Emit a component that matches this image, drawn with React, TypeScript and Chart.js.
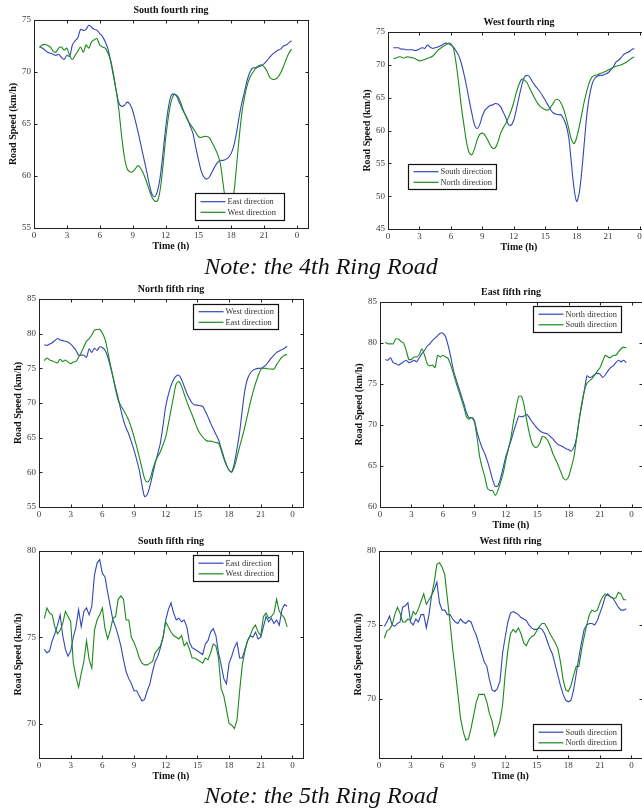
import React, { useEffect, useRef } from "react";
import { Chart, registerables } from "chart.js";

Chart.register(...registerables);

// Time grid (hours of the day), every 15 minutes
const hours: number[] = Array.from({ length: 93 }, (_, i) => 0.5 + i * 0.25);
const xTicks = [0, 3, 6, 9, 12, 15, 18, 21, 24];

// South fourth ring
const south4East = [
  72.4, 72.3,
  72.1, 71.9, 71.8, 71.7, 71.6, 71.7, 71.4, 71.2, 71.6, 71.5, 72.6, 73.0,
  73.3, 74.1, 74.0, 74.1, 74.5, 74.3, 74.1, 74.0, 73.7, 73.4, 72.9, 72.2,
  71.0, 69.6, 68.2, 67.0, 66.7, 66.8, 67.1, 66.9, 66.3, 65.3, 64.2, 63.0,
  61.8, 60.6, 59.3, 58.3, 58.0, 58.5, 59.8, 62.0, 64.5, 66.5, 67.7, 67.9,
  67.7, 67.1, 66.5, 66.0, 65.5, 64.8, 64.1, 62.8, 61.6, 60.5, 59.9, 59.7,
  59.9, 60.4, 60.9, 61.3, 61.5, 61.5, 61.6, 61.8, 62.2, 63.0, 64.3, 65.9,
  67.2, 68.3, 69.4, 70.1, 70.4, 70.4, 70.5, 70.6, 70.8, 71.1, 71.4, 71.7,
  71.9, 72.1, 72.2, 72.5, 72.6, 72.8, 73.0,
];
const south4West = [
  72.4, 72.6,
  72.65, 72.55, 72.4, 72.0, 71.9, 72.3, 72.4, 72.1, 72.3, 71.6, 71.2, 71.6,
  72.0, 72.4, 71.9, 72.6, 72.3, 72.9, 73.1, 73.2, 72.6, 72.4, 72.3, 71.8,
  71.1, 69.8, 68.2, 66.3, 63.8, 61.8, 60.7, 60.4, 60.4, 60.7, 61.0, 60.7,
  60.2, 59.5, 58.7, 58.0, 57.6, 57.6, 58.6, 60.8, 63.5, 65.6, 67.1, 67.8,
  67.8, 67.4, 66.7, 66.0, 65.4, 65.0, 64.6, 64.2, 63.8, 63.7, 63.8, 63.8,
  63.7, 63.2, 62.7, 62.1, 61.2, 59.3, 57.5, 56.8, 57.2, 58.5, 61.2, 64.0,
  66.3, 67.8, 68.9, 69.6, 70.0, 70.4, 70.6, 70.7, 70.5, 70.1, 69.5, 69.3,
  69.3, 69.5, 69.9, 70.5, 71.2, 71.8, 72.2,
];

// West fourth ring
const west4South = [
  72.6, 72.6,
  72.6, 72.4, 72.4, 72.3, 72.3, 72.3, 72.2, 72.2, 72.4, 72.6, 72.5, 73.0,
  72.7, 72.5, 72.6, 72.7, 72.9, 73.1, 73.3, 73.2, 73.0, 72.7, 72.1, 71.4,
  70.2, 68.6, 66.7, 64.6, 62.6, 60.9, 60.3, 60.9, 62.2, 63.1, 63.5, 63.8,
  63.9, 64.1, 64.0, 63.6, 62.8, 61.9, 60.9, 60.8, 61.6, 63.2, 65.1, 66.8,
  68.1, 68.4, 68.2, 67.5, 66.9, 66.4, 65.9, 65.3, 64.6, 63.9, 63.2, 62.7,
  62.5, 62.4, 62.4, 61.8, 60.8, 58.9, 55.0, 51.2, 49.2, 50.5, 54.0, 58.5,
  62.8, 65.5, 67.2, 68.0, 68.3, 68.4, 68.4, 68.6, 68.8, 69.2, 69.7, 70.4,
  70.7, 71.1, 71.6, 71.8, 72.0, 72.3, 72.5,
];
const west4North = [
  71.0, 71.0,
  71.2, 71.2, 71.0, 71.2, 71.2, 71.1, 71.0, 70.8, 70.6, 70.7, 70.8, 71.0,
  71.1, 71.3, 71.7, 72.2, 72.5, 72.8, 73.0, 73.3, 73.2, 72.5, 70.2, 67.1,
  63.6, 60.8, 58.2, 56.6, 56.3, 57.2, 58.5, 59.4, 59.6, 59.3, 58.6, 57.8,
  57.3, 57.4, 58.3, 59.6, 60.4, 61.1, 62.0, 63.0, 64.3, 65.8, 67.0, 67.8,
  67.7, 67.3, 66.5, 65.7, 64.9, 64.2, 63.7, 63.4, 63.2, 63.1, 63.5, 64.1,
  64.7, 64.7, 64.2, 63.3, 61.9, 60.3, 58.6, 58.0, 58.9, 60.6, 62.6, 64.6,
  66.2, 67.5, 68.2, 68.4, 68.5, 68.7, 68.8, 69.0, 69.2, 69.4, 69.6, 69.8,
  69.9, 70.0, 70.2, 70.4, 70.7, 71.0, 71.2,
];

// North fifth ring
const north5West = [
  78.4, 78.3,
  78.5, 78.7, 79.0, 79.3, 79.1, 79.0, 78.9, 78.8, 78.5, 78.1, 77.6, 76.9,
  76.9, 76.9, 76.6, 77.8, 77.3, 77.9, 77.6, 78.1, 78.0, 77.6, 76.7, 75.3,
  73.8, 72.2, 70.7, 69.0, 67.5, 66.4, 65.5, 64.4, 63.2, 61.8, 60.3, 58.2,
  56.5, 56.8, 58.0, 59.6, 61.3, 62.7, 64.3, 66.8, 69.5, 71.2, 72.5, 73.4,
  73.9, 74.0, 73.4, 72.4, 71.4, 70.6, 70.0, 69.7, 69.7, 69.6, 69.5, 68.8,
  68.0, 67.1, 66.3, 65.5, 64.7, 63.5, 62.2, 61.1, 60.3, 60.1, 61.3, 63.4,
  65.8, 69.0, 71.9, 73.5, 74.3, 74.7, 74.9, 75.0, 75.0, 75.2, 75.5, 76.0,
  76.5, 76.9, 77.3, 77.5, 77.7, 77.9, 78.2,
];
const north5East = [
  76.1, 76.5,
  76.2, 76.1, 75.9, 75.8, 76.3, 76.0, 76.2, 75.9, 75.7, 75.9, 76.0, 76.6,
  77.3, 78.1, 78.9, 79.3, 79.8, 80.5, 80.6, 80.6, 80.1, 79.2, 77.5, 75.6,
  73.8, 71.9, 70.4, 69.6, 69.0, 68.3, 67.5, 66.4, 65.1, 63.7, 62.2, 60.6,
  59.1, 58.6, 59.0, 60.3, 61.5, 62.3, 63.0, 64.0, 65.1, 67.0, 69.0, 71.0,
  72.8, 73.1, 72.4, 71.3, 70.2, 69.2, 68.3, 67.3, 66.3, 65.6, 65.1, 64.7,
  64.5, 64.5, 64.4, 64.3, 64.2, 63.2, 62.0, 61.0, 60.3, 60.0, 60.8, 62.2,
  63.7, 65.1, 66.6, 68.3, 70.0, 71.5, 72.8, 73.9, 74.8, 75.0, 75.0, 74.9,
  74.9, 74.9, 75.5, 76.1, 76.6, 76.9, 77.0,
];

// East fifth ring
const east5North = [
  78.0, 77.9,
  78.2, 77.6, 77.5, 77.3, 77.5, 77.7, 77.9, 77.6, 77.7, 77.9, 77.7, 78.2,
  78.7, 79.1, 79.6, 79.9, 80.3, 80.6, 80.9, 81.2, 81.2, 80.8, 79.7, 78.3,
  76.7, 75.6, 74.6, 73.6, 72.6, 71.5, 70.9, 70.9, 70.6, 69.2, 68.1, 67.2,
  66.5, 65.6, 64.5, 63.3, 62.5, 62.6, 63.5, 64.8, 66.1, 67.1, 68.1, 69.2,
  70.2, 71.1, 71.0, 71.1, 71.3, 70.9, 70.4, 70.0, 69.6, 69.3, 69.1, 69.0,
  68.9, 68.6, 68.3, 67.9, 67.6, 67.5, 67.3, 67.1, 67.0, 66.8, 67.3, 68.4,
  70.6, 72.4, 74.2, 76.0, 75.8, 75.9, 76.2, 76.3, 76.2, 75.8, 76.1, 76.6,
  77.0, 77.2, 77.6, 77.9, 77.7, 77.9, 77.6,
];
const east5South = [
  80.1, 79.9,
  79.9, 79.9, 80.5, 80.5, 80.2, 80.0, 79.1, 78.0, 78.0, 78.3, 78.3, 78.6,
  79.3, 78.5, 77.5, 77.2, 77.3, 77.0, 78.5, 78.3, 78.5, 78.3, 78.1, 77.3,
  76.3, 75.2, 74.2, 73.2, 72.2, 71.0, 70.7, 70.9, 70.4, 68.6, 66.2, 64.8,
  63.7, 62.3, 62.0, 62.0, 61.4, 62.0, 63.0, 64.1, 65.7, 67.1, 68.5, 70.5,
  72.2, 73.5, 73.5, 72.4, 70.6, 69.0, 67.8, 67.3, 67.3, 67.8, 68.6, 68.5,
  68.1, 67.4, 66.5, 65.8, 65.1, 64.3, 63.5, 63.3, 63.7, 64.8, 66.1, 68.3,
  70.6, 72.6, 74.2, 75.1, 75.4, 75.7, 76.1, 76.6, 77.0, 77.8, 78.5, 78.3,
  78.2, 78.5, 78.5, 78.9, 79.3, 79.5, 79.4,
];

// South fifth ring
const south5East = [
  74.3, 74.1,
  74.2, 74.8, 75.2, 75.7, 76.3, 75.1, 74.3, 73.9, 74.2, 75.0, 75.6, 76.6,
  75.6, 76.5, 76.7, 76.3, 76.8, 78.6, 79.3, 79.5, 78.7, 78.5, 77.6, 76.8,
  76.0, 75.6, 75.1, 74.5, 73.7, 73.0, 72.6, 72.3, 71.9, 71.9, 71.6, 71.3,
  71.4, 71.9, 72.3, 73.0, 73.6, 73.9, 74.4, 75.0, 76.0, 76.6, 77.0, 76.4,
  76.0, 76.1, 75.9, 76.0, 75.6, 74.7, 74.4, 74.3, 74.2, 74.1, 74.0, 74.6,
  74.8, 75.3, 75.5, 75.1, 74.1, 73.4, 72.6, 72.3, 73.5, 73.9, 74.4, 74.7,
  73.8, 73.8, 74.3, 74.8, 75.1, 75.0, 75.3, 74.9, 75.0, 75.6, 76.2, 75.9,
  76.1, 75.8, 76.0, 75.7, 76.6, 76.9, 76.8,
];
const south5West = [
  76.1, 76.7,
  76.4, 76.3, 75.6, 75.2, 75.4, 75.8, 76.5, 76.2, 75.9, 73.5, 72.7, 72.1,
  72.9, 73.6, 74.8, 73.7, 73.2, 75.4, 76.0, 76.3, 76.7, 75.5, 74.9, 75.4,
  76.1, 76.2, 77.2, 77.4, 77.2, 76.0, 76.0, 75.0, 74.7, 74.3, 73.8, 73.5,
  73.4, 73.4, 73.5, 73.6, 74.1, 74.3, 74.5, 75.0, 75.9, 75.6, 75.3, 75.1,
  75.0, 74.9, 75.1, 74.5, 74.7, 74.3, 73.8, 73.8, 73.7, 73.6, 73.5, 73.8,
  73.7, 74.1, 74.6, 74.5, 73.8, 72.0, 71.6, 70.8, 70.0, 69.9, 69.7, 70.2,
  71.9, 73.4, 74.2, 74.8, 75.1, 75.5, 75.7, 75.3, 75.1, 76.2, 76.4, 76.1,
  76.2, 76.4, 77.2, 76.5, 76.3, 76.1, 75.6,
];

// West fifth ring
const west5South = [
  74.9, 75.2,
  75.6, 75.0, 74.9, 75.1, 75.2, 76.2, 76.3, 76.5, 75.2, 75.0, 75.4, 75.2,
  75.7, 75.7, 74.8, 75.7, 77.0, 77.4, 77.9, 76.5, 76.0, 76.0, 75.7, 75.7,
  75.4, 75.2, 75.1, 75.4, 75.2, 75.1, 75.3, 75.2, 74.7, 74.3, 73.7, 73.1,
  72.5, 72.2, 71.3, 70.6, 70.5, 70.7, 71.2, 73.1, 74.2, 75.2, 75.8, 75.9,
  75.8, 75.7, 75.5, 75.4, 75.3, 75.0, 74.8, 74.7, 74.7, 74.8, 74.7, 74.4,
  73.9, 73.4, 73.0, 72.3, 71.6, 70.9, 70.3, 69.9, 69.8, 69.9, 70.6, 71.7,
  72.8, 73.8, 74.7, 75.0, 75.1, 75.1, 75.0, 75.3, 75.8, 76.3, 76.9, 77.1,
  76.9, 76.8, 76.5, 76.2, 76.0, 76.0, 76.1,
];
const west5North = [
  74.1, 74.6,
  74.7, 75.0, 75.7, 76.2, 75.8, 75.2, 75.2, 75.4, 75.3, 75.9, 75.7, 76.1,
  76.6, 77.1, 76.4, 76.7, 77.0, 77.9, 79.1, 79.2, 78.9, 78.4, 76.8, 75.2,
  73.4, 71.9, 70.3, 68.7, 67.8, 67.2, 67.3, 68.0, 68.9, 69.8, 70.3, 70.3,
  70.3, 69.8, 69.0, 68.5, 67.5, 67.9, 68.5, 69.6, 71.7, 73.3, 74.4, 74.7,
  74.5, 74.8, 74.4, 73.8, 73.6, 74.0, 74.2, 74.3, 74.6, 74.9, 75.1, 75.1,
  74.8, 74.4, 74.1, 73.8, 73.4, 72.5, 71.3, 70.6, 70.5, 70.9, 71.6, 72.2,
  72.2, 73.3, 74.2, 75.0, 75.7, 76.0, 75.9, 76.0, 76.5, 76.9, 77.1, 77.0,
  76.9, 76.8, 76.8, 77.2, 77.1, 76.7, 76.7,
];

const BLUE = "#3346b8";
const GREEN = "#1b8a1b";
const FONT = '"Liberation Serif", "Times New Roman", Times, serif';

type Rect = { x: number; y: number; w: number; h: number };
type PanelCfg = {
  title: string;
  names: [string, string];
  series: [number[], number[]];
  yMin: number;
  yMax: number;
  showXTitle: boolean;
  tension: number;
  canvas: { left: number; top: number; width: number; height: number };
  legend: Rect;
};

const panels: PanelCfg[] = [
  {
    title: "South fourth ring",
    names: ["East direction", "West direction"],
    series: [south4East, south4West],
    yMin: 55, yMax: 75, showXTitle: true, tension: 0.3,
    canvas: { left: 4, top: 0, width: 312, height: 256 },
    legend: { x: 161, y: 173, w: 89, h: 27 },
  },
  {
    title: "West fourth ring",
    names: ["South direction", "North direction"],
    series: [west4South, west4North],
    yMin: 45, yMax: 75, showXTitle: true, tension: 0.3,
    canvas: { left: 358, top: 12, width: 300, height: 245 },
    legend: { x: 20, y: 132, w: 88, h: 25 },
  },
  {
    title: "North fifth ring",
    names: ["West direction", "East direction"],
    series: [north5West, north5East],
    yMin: 55, yMax: 85, showXTitle: false, tension: 0.3,
    canvas: { left: 9, top: 279, width: 302, height: 256 },
    legend: { x: 154, y: 5, w: 85, h: 25 },
  },
  {
    title: "East fifth ring",
    names: ["North direction", "South direction"],
    series: [east5North, east5South],
    yMin: 60, yMax: 85, showXTitle: true, tension: 0.2,
    canvas: { left: 350, top: 282, width: 300, height: 253 },
    legend: { x: 153, y: 4, w: 88, h: 26 },
  },
  {
    title: "South fifth ring",
    names: ["East direction", "West direction"],
    series: [south5East, south5West],
    yMin: 68, yMax: 80, showXTitle: true, tension: 0,
    canvas: { left: 9, top: 531, width: 302, height: 255 },
    legend: { x: 154, y: 4, w: 85, h: 26 },
  },
  {
    title: "West fifth ring",
    names: ["South direction", "North direction"],
    series: [west5South, west5North],
    yMin: 66, yMax: 80, showXTitle: true, tension: 0,
    canvas: { left: 349, top: 531, width: 301, height: 255 },
    legend: { x: 154, y: 173, w: 88, h: 26 },
  },
];

// Boxed axes with inward tick marks, panel title and a framed legend
const matlabFrame = {
  id: "matlabFrame",
  afterDatasetsDraw(chart: any, _args: any, opts: any) {
    const { ctx, chartArea: a, scales } = chart;
    const L = Math.round(a.left) + 0.5;
    const R = Math.round(a.right) + 0.5;
    const T = Math.round(a.top) + 0.5;
    const B = Math.round(a.bottom) + 0.5;
    ctx.save();
    ctx.strokeStyle = "#222";
    ctx.lineWidth = 1;
    ctx.strokeRect(L, T, R - L, B - T);
    ctx.beginPath();
    for (const t of scales.x.ticks) {
      const px = Math.round(scales.x.getPixelForValue(t.value)) + 0.5;
      ctx.moveTo(px, B); ctx.lineTo(px, B - 3);
      ctx.moveTo(px, T); ctx.lineTo(px, T + 3);
    }
    for (const t of scales.y.ticks) {
      const py = Math.round(scales.y.getPixelForValue(t.value)) + 0.5;
      ctx.moveTo(L, py); ctx.lineTo(L + 3, py);
      ctx.moveTo(R, py); ctx.lineTo(R - 3, py);
    }
    ctx.stroke();
    ctx.fillStyle = "#111";
    ctx.font = `bold 10px ${FONT}`;
    ctx.textAlign = "center";
    ctx.textBaseline = "middle";
    ctx.fillText(opts.title, (a.left + a.right) / 2, a.top - 10);
    ctx.restore();
  },
  afterDraw(chart: any, _args: any, opts: any) {
    const { ctx, chartArea: a } = chart;
    const lg = opts.legend;
    const x = Math.round(a.left + lg.x) + 0.5;
    const y = Math.round(a.top + lg.y) + 0.5;
    ctx.save();
    ctx.fillStyle = "#fff";
    ctx.fillRect(x, y, lg.w, lg.h);
    ctx.strokeStyle = "#111";
    ctx.lineWidth = 1.2;
    ctx.strokeRect(x, y, lg.w, lg.h);
    ctx.font = `8.4px ${FONT}`;
    ctx.textAlign = "left";
    ctx.textBaseline = "middle";
    chart.data.datasets.forEach((ds: any, i: number) => {
      const ry = y + lg.h / 2 + (i - 0.5) * 10.6;
      ctx.strokeStyle = ds.borderColor;
      ctx.lineWidth = 1.2;
      ctx.beginPath();
      ctx.moveTo(x + 5, ry);
      ctx.lineTo(x + 30, ry);
      ctx.stroke();
      ctx.fillStyle = "#333";
      ctx.fillText(ds.label, x + 32, ry + 0.5);
    });
    ctx.restore();
  },
};

function Panel({ cfg }: { cfg: PanelCfg }) {
  const ref = useRef<HTMLCanvasElement | null>(null);
  useEffect(() => {
    if (!ref.current) return;
    const colors = [BLUE, GREEN];
    const chart = new Chart(ref.current, {
      type: "line",
      data: {
        datasets: cfg.series.map((vals, k) => ({
          label: cfg.names[k],
          data: hours.map((h, i) => ({ x: h, y: vals[i] })),
          borderColor: colors[k],
          backgroundColor: colors[k],
          borderWidth: 1.1,
          pointRadius: 0,
          fill: false,
          tension: cfg.tension,
          order: 1 - k,
        })),
      },
      options: {
        responsive: false,
        maintainAspectRatio: false,
        animation: false,
        events: [],
        layout: { padding: { top: 20, right: 8, left: 0, bottom: 0 } },
        plugins: {
          legend: { display: false },
          tooltip: { enabled: false },
          title: { display: false },
          matlabFrame: { title: cfg.title, legend: cfg.legend },
        } as any,
        scales: {
          x: {
            type: "linear",
            min: 0,
            max: 25,
            afterFit: (s: any) => { s.height = 28; },
            afterBuildTicks: (s: any) => { s.ticks = xTicks.map((v) => ({ value: v })); },
            grid: { display: false, drawTicks: false },
            border: { display: false },
            ticks: {
              autoSkip: false,
              maxRotation: 0,
              padding: 2,
              color: "#3a3a3a",
              font: { family: FONT, size: 9 },
              callback: (v: any) => (Number(v) === 24 ? "0" : String(v)),
            },
            title: {
              display: cfg.showXTitle,
              text: "Time (h)",
              color: "#111",
              font: { family: FONT, size: 10, weight: "bold" },
              padding: { top: 0, bottom: 3.5 },
            },
          },
          y: {
            type: "linear",
            min: cfg.yMin,
            max: cfg.yMax,
            afterFit: (s: any) => { s.width = 30; },
            grid: { display: false, drawTicks: false },
            border: { display: false },
            ticks: {
              stepSize: 5,
              includeBounds: false,
              padding: 3,
              color: "#3a3a3a",
              font: { family: FONT, size: 9 },
            },
            title: {
              display: true,
              text: "Road Speed (km/h)",
              color: "#111",
              font: { family: FONT, size: 10, weight: "bold" },
              padding: { top: 3, bottom: 0 },
            },
          },
        },
      },
      plugins: [matlabFrame as any],
    } as any);
    return () => chart.destroy();
  }, [cfg]);
  const c = cfg.canvas;
  return (
    <canvas
      ref={ref}
      width={c.width}
      height={c.height}
      style={{ position: "absolute", left: c.left, top: c.top, width: c.width, height: c.height }}
    />
  );
}

const captionStyle: React.CSSProperties = {
  position: "absolute",
  left: 0,
  width: 642,
  textAlign: "center",
  fontFamily: FONT,
  fontStyle: "italic",
  fontSize: 24,
  lineHeight: "24px",
  color: "#111",
};

export default function App() {
  return (
    <div
      style={{
        position: "absolute",
        left: 0,
        top: 0,
        width: 642,
        height: 812,
        overflow: "hidden",
        background: "#fff",
      }}
    >
      {panels.map((p) => (
        <Panel key={p.title} cfg={p} />
      ))}
      <div style={{ ...captionStyle, top: 254 }}>Note: the 4th Ring Road</div>
      <div style={{ ...captionStyle, top: 783 }}>Note: the 5th Ring Road</div>
    </div>
  );
}
